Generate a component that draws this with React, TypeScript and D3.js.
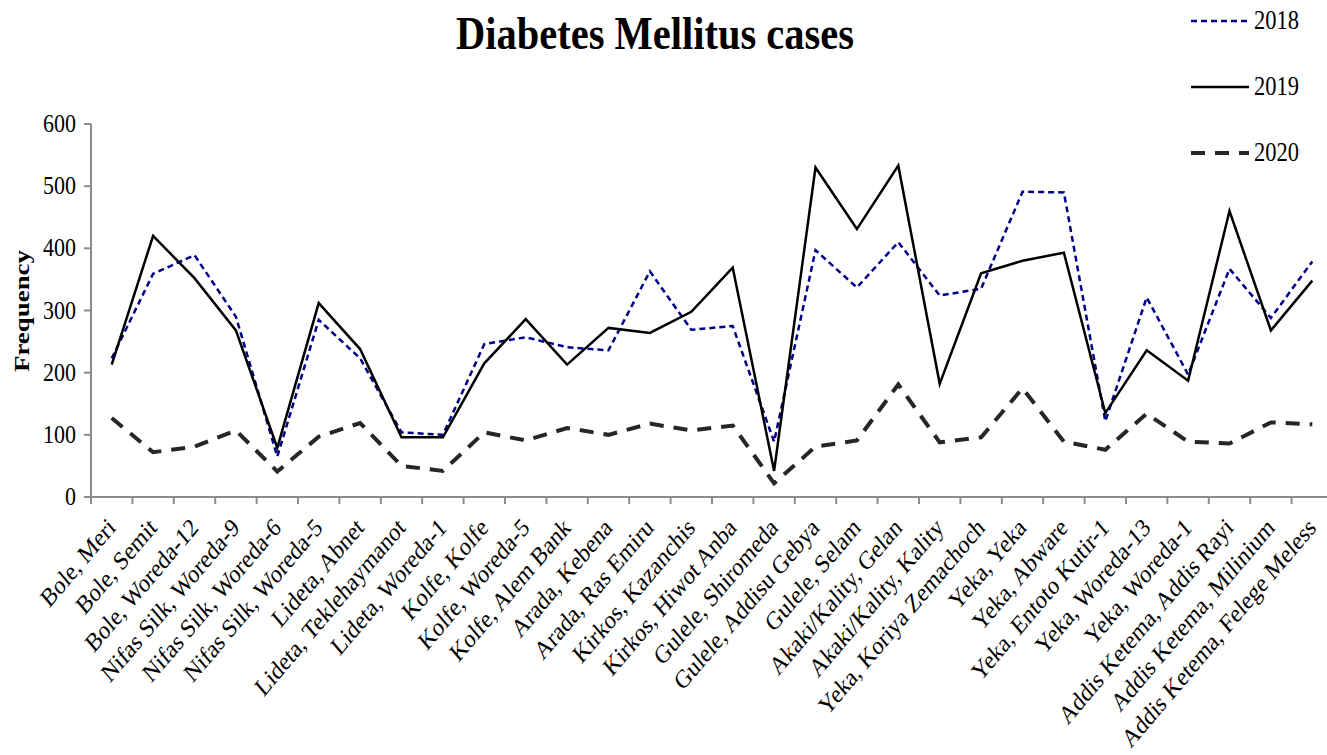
import React from "react";
import * as d3 from "d3";

const categories = [
  "Bole, Meri", "Bole, Semit", "Bole, Woreda-12", "Nifas Silk, Woreda-9", "Nifas Silk, Woreda-6",
  "Nifas Silk, Woreda-5", "Lideta, Abnet", "Lideta, Teklehaymanot", "Lideta, Woreda-1", "Kolfe, Kolfe",
  "Kolfe, Woreda-5", "Kolfe, Alem Bank", "Arada, Kebena", "Arada, Ras Emiru", "Kirkos, Kazanchis",
  "Kirkos, Hiwot Anba", "Gulele, Shiromeda", "Gulele, Addisu Gebya", "Gulele, Selam", "Akaki/Kality, Gelan",
  "Akaki/Kality, Kality", "Yeka, Koriya Zemachoch", "Yeka, Yeka", "Yeka, Abware", "Yeka, Entoto Kutir-1",
  "Yeka, Woreda-13", "Yeka, Woreda-1", "Addis Ketema, Addis Rayi", "Addis Ketema, Milinium", "Addis Ketema, Felege Meless",
];

const values2018 = [223, 359, 389, 290, 65, 285, 223, 104, 100, 246, 257, 241, 236, 363, 269, 275, 89, 397, 337, 410, 324, 335, 491, 490, 122, 321, 197, 367, 288, 379];
const values2019 = [213, 420, 352, 268, 79, 312, 238, 96, 96, 215, 286, 213, 272, 264, 298, 369, 42, 530, 431, 533, 182, 360, 380, 393, 135, 236, 187, 460, 268, 348];
const values2020 = [127, 72, 81, 107, 41, 97, 119, 50, 42, 104, 91, 111, 100, 118, 107, 115, 22, 81, 91, 181, 88, 96, 175, 89, 76, 134, 89, 86, 120, 117];

const yTicks = [0, 100, 200, 300, 400, 500, 600];

const seriesDefs = [
  { name: "2018", values: values2018, color: "#00008B", width: 2.5, dash: "6,4", ly: 21 },
  { name: "2019", values: values2019, color: "#000000", width: 2.5, dash: "", ly: 87 },
  { name: "2020", values: values2020, color: "#262626", width: 4, dash: "14,10", ly: 153 },
];

const FONT = "'Liberation Serif', 'Times New Roman', serif";
const SY = 1.18; // vertical stretch of the text

export default function App() {
  const W = 1327, H = 755;
  const x = d3.scaleBand<string>().domain(categories).range([91, 91 + 30 * 41.4]).padding(0);
  const cx = (c: string) => (x(c) as number) + x.bandwidth() / 2;
  const y = d3.scaleLinear().domain([0, 600]).range([497, 124]);
  const line = d3.line<number>().x((_, i) => cx(categories[i])).y((v) => y(v));
  const axisColor = "#8c8c8c";

  return (
    <svg width={W} height={H} style={{ position: "absolute", left: 0, top: 0, background: "#fff" }} fontFamily={FONT}>
      <g transform={`translate(655,49) scale(1,${SY})`}>
        <text x={0} y={0} textAnchor="middle" fontSize={39} fontWeight="bold" textLength={398} lengthAdjust="spacingAndGlyphs">
          Diabetes Mellitus cases
        </text>
      </g>
      {/* y axis */}
      <line x1={91} x2={91} y1={124} y2={497} stroke={axisColor} strokeWidth={2} />
      {yTicks.map((t) => (
        <g key={t}>
          <line x1={84} x2={91} y1={y(t)} y2={y(t)} stroke={axisColor} strokeWidth={2} />
          <g transform={`translate(76,${y(t) + 8}) scale(1,${SY})`}>
            <text x={0} y={0} textAnchor="end" fontSize={22}>{t}</text>
          </g>
        </g>
      ))}
      <text transform={`translate(29,311) rotate(-90)`} textAnchor="middle" fontSize={21} fontWeight="bold" textLength={122} lengthAdjust="spacingAndGlyphs">Frequency</text>
      {/* x axis */}
      <line x1={91} x2={W} y1={497} y2={497} stroke={axisColor} strokeWidth={2} />
      {categories.map((c) => (
        <line key={"t" + c} x1={x(c) as number} x2={x(c) as number} y1={497} y2={504} stroke={axisColor} strokeWidth={2} />
      ))}
      {categories.map((c) => (
        <g key={"l" + c} transform={`translate(${cx(c) + 5},${529}) scale(1,${SY}) rotate(-45)`}>
          <text x={0} y={0} textAnchor="end" fontSize={22}>{c}</text>
        </g>
      ))}
      {/* lines */}
      {seriesDefs.map((s) => (
        <path key={s.name} d={line(s.values) as string} fill="none" stroke={s.color} strokeWidth={s.width}
          strokeDasharray={s.dash || undefined} strokeLinejoin="miter" />
      ))}
      {/* legend */}
      {seriesDefs.map((s) => (
        <g key={"lg" + s.name}>
          <line x1={1191} x2={1249} y1={s.ly} y2={s.ly} stroke={s.color} strokeWidth={s.width} strokeDasharray={s.dash || undefined} />
          <g transform={`translate(1254,${s.ly + 8}) scale(1,${SY})`}>
            <text x={0} y={0} fontSize={22.5}>{s.name}</text>
          </g>
        </g>
      ))}
    </svg>
  );
}
